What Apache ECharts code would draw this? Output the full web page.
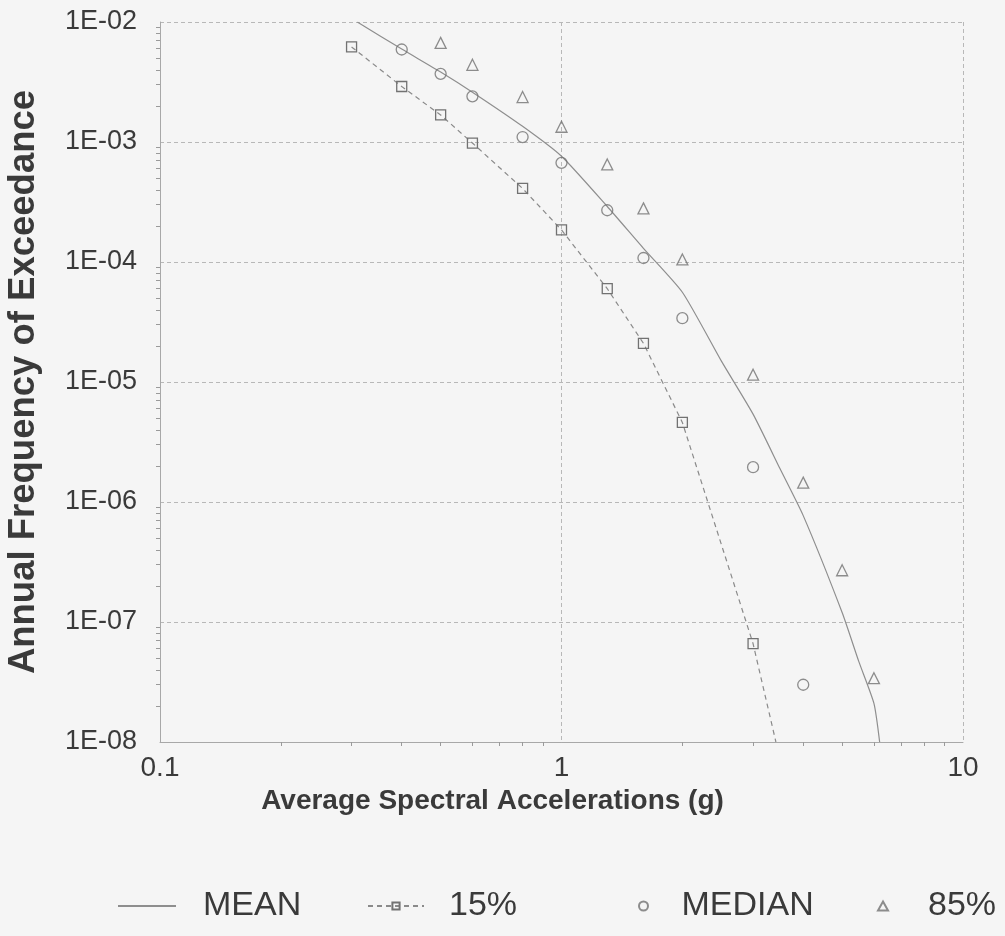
<!DOCTYPE html>
<html>
<head>
<meta charset="utf-8">
<script src="https://cdn.jsdelivr.net/npm/echarts@6/dist/echarts.min.js"></script>
<style>
html,body{margin:0;padding:0;background:#f5f5f5;}
#chart{width:1005px;height:936px;}
</style>
</head>
<body>
<div id="chart"></div>
<script>
// ---- data ----
const xTickLabels = ['0.1', '1', '10'];
const yTickLabels = ['1E-08', '1E-07', '1E-06', '1E-05', '1E-04', '1E-03', '1E-02'];

const accel = [0.3, 0.4, 0.5, 0.6, 0.8, 1.0, 1.3, 1.6, 2.0, 3.0, 4.0, 5.0, 6.0];
const p15 = [6.2e-3, 2.9e-3, 1.68e-3, 9.8e-4, 4.1e-4, 1.85e-4, 6.0e-5, 2.1e-5, 4.6e-6, 6.6e-8, null, null, null];
const median = [null, 5.9e-3, 3.7e-3, 2.4e-3, 1.1e-3, 6.7e-4, 2.7e-4, 1.08e-4, 3.4e-5, 1.95e-6, 3.0e-8, null, null];
const p85 = [null, null, 6.7e-3, 4.4e-3, 2.37e-3, 1.34e-3, 6.5e-4, 2.8e-4, 1.05e-4, 1.15e-5, 1.45e-6, 2.7e-7, 3.4e-8];
const p15LineEnd = [3.42, 1.0e-8];

const meanAccel = [0.31, 0.4, 0.5, 0.6, 0.8, 1.0, 1.3, 1.6, 2.0, 2.5, 3.0, 3.5, 4.0, 5.0, 5.5, 6.0, 6.2];
const meanFreq = [1.0e-2, 5.95e-3, 3.83e-3, 2.6e-3, 1.35e-3, 7.6e-4, 2.9e-4, 1.3e-4, 5.6e-5, 1.5e-5, 5.4e-6, 1.9e-6, 7.7e-7, 1.2e-7, 4.7e-8, 2.1e-8, 1.0e-8];

const seriesNames = ['MEAN', '15%', 'MEDIAN', '85%'];

// ---- build ----
function pairs(xs, ys) {
  const out = [];
  xs.forEach((x, i) => { if (ys[i] != null) out.push([x, ys[i]]); });
  return out;
}
const p15Data = pairs(accel, p15);
p15Data.push({ value: p15LineEnd, symbol: 'none' });

const FONT = 'Liberation Sans, Arial, sans-serif';
const TXT = '#3a3a3a';
const MARK = '#727272';
const GRID = '#b8b8b8';

const chart = echarts.init(document.getElementById('chart'), null, { renderer: 'canvas' });

const legendText = { fontFamily: FONT, fontSize: 34, color: TXT };
function legendAt(left, itemWidth, name, pad, extra) {
  return Object.assign({
    orient: 'horizontal',
    top: 884,
    left: left,
    itemWidth: itemWidth,
    itemHeight: 9,
    selectedMode: false,
    data: [name],
    textStyle: Object.assign({}, legendText, { padding: [0, 0, 0, pad] })
  }, extra || {});
}

const option = {
  backgroundColor: '#f5f5f5',
  animation: false,
  grid: { left: 160, right: 42, top: 22, bottom: 194, containLabel: false, outerBoundsMode: 'none' },
  xAxis: {
    type: 'log',
    logBase: 10,
    min: 0.1,
    max: 10,
    name: 'Average Spectral Accelerations (g)',
    nameLocation: 'middle',
    nameGap: 40,
    nameTextStyle: { fontFamily: FONT, fontSize: 28, fontWeight: 'bold', color: TXT, padding: [0, 138, 0, 0] },
    axisLine: { show: true, lineStyle: { color: '#a8a8a8', width: 1 } },
    axisTick: { show: false },
    minorTick: { show: true, splitNumber: 9, length: 4, lineStyle: { color: '#9a9a9a' } },
    axisLabel: {
      fontFamily: FONT, fontSize: 28, color: TXT, margin: 12,
      formatter: v => xTickLabels[Math.round(Math.log10(v)) + 1] || ''
    },
    splitLine: { show: true, lineStyle: { color: GRID, width: 1, type: [4, 3] } }
  },
  yAxis: {
    type: 'log',
    logBase: 10,
    min: 1e-8,
    max: 1e-2,
    name: 'Annual Frequency of Exceedance',
    nameLocation: 'middle',
    nameGap: 118,
    nameTextStyle: { fontFamily: FONT, fontSize: 36.5, fontWeight: 'bold', color: TXT },
    axisLine: { show: true, lineStyle: { color: '#a8a8a8', width: 1 } },
    axisTick: { show: false },
    minorTick: { show: true, splitNumber: 9, length: 4, lineStyle: { color: '#9a9a9a' } },
    axisLabel: {
      fontFamily: FONT, fontSize: 27, color: TXT, margin: 23,
      formatter: v => yTickLabels[Math.round(Math.log10(v)) + 8] || ''
    },
    splitLine: { show: true, lineStyle: { color: GRID, width: 1, type: [4, 3] } }
  },
  legend: [
    legendAt(112, 58, seriesNames[0], 22, { itemStyle: { opacity: 0 } }),
    legendAt(362, 56, seriesNames[1], 20),
    legendAt(633, 10, seriesNames[2], 28),
    legendAt(872, 10, seriesNames[3], 35)
  ],
  series: [
    {
      name: seriesNames[0],
      type: 'line',
      data: meanAccel.map((x, i) => [x, meanFreq[i]]),
      showSymbol: false,
      symbol: 'none',
      smooth: 0.2,
      clip: true,
      lineStyle: { color: '#8e8e8e', width: 1.2, type: 'solid' },
      itemStyle: { color: '#8e8e8e' },
      z: 3
    },
    {
      name: seriesNames[1],
      type: 'line',
      data: p15Data,
      symbol: 'rect',
      symbolSize: 10,
      showAllSymbol: true,
      clip: true,
      lineStyle: { color: '#8a8a8a', width: 1.2, type: [5, 4] },
      itemStyle: { color: 'rgba(0,0,0,0)', borderColor: MARK, borderWidth: 1.3 },
      z: 4
    },
    {
      name: seriesNames[2],
      type: 'scatter',
      data: pairs(accel, median),
      symbol: 'circle',
      symbolSize: 11,
      itemStyle: { color: 'rgba(0,0,0,0)', borderColor: MARK, borderWidth: 1.3 },
      z: 5
    },
    {
      name: seriesNames[3],
      type: 'scatter',
      data: pairs(accel, p85),
      symbol: 'triangle',
      symbolSize: 11,
      itemStyle: { color: 'rgba(0,0,0,0)', borderColor: MARK, borderWidth: 1.3 },
      z: 5
    }
  ]
};

chart.setOption(option);
</script>
</body>
</html>
